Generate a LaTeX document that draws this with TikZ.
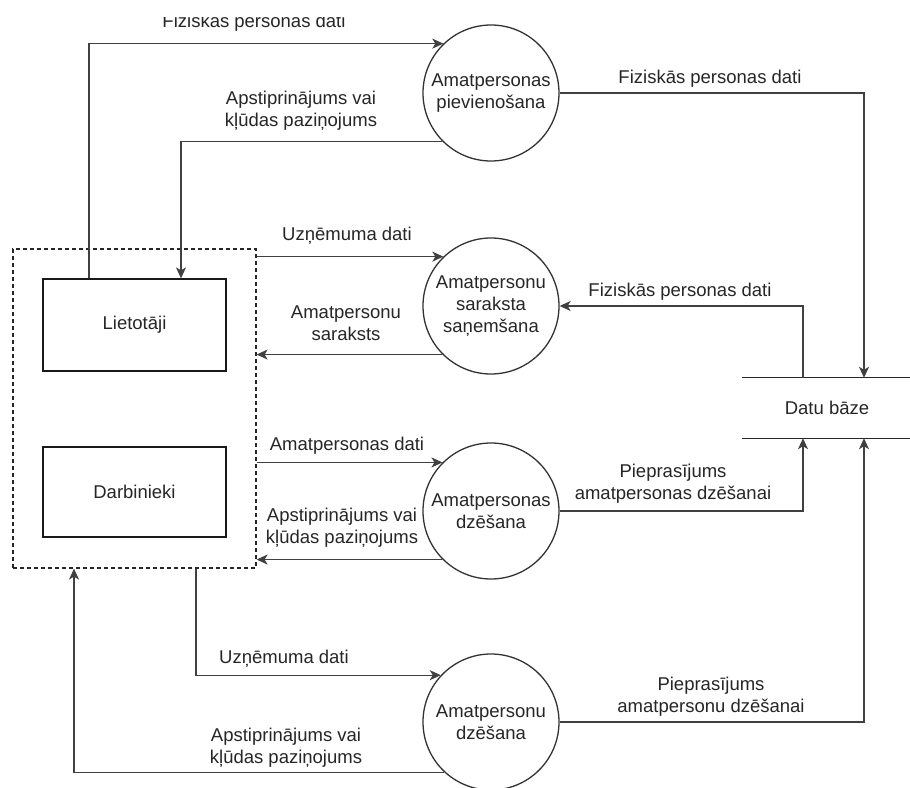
\documentclass[tikz,border=0pt]{standalone}
\usepackage{fontspec}
\setmainfont{Liberation Sans}
\usetikzlibrary{arrows.meta,calc}
\begin{document}
\begin{tikzpicture}[x=1pt,y=-1pt,
  every node/.style={font=\fontsize{18.5}{22}\selectfont, text=black!85},
  proc/.style={circle, draw=black!80, line width=1.3pt, minimum size=136pt, inner sep=0pt, align=center},
  entity/.style={rectangle, draw=black!90, line width=1.3pt, inner sep=0pt},
  flow/.style={draw=black!75, line width=1.3pt, -{Stealth[length=11pt,width=10pt,inset=3pt]}},
  lbl/.style={align=center, inner sep=0pt}]
\useasboundingbox (0,0) rectangle (910,787);
\clip (0,0) rectangle (910,787);
\fill[white] (0,0) rectangle (910,787);

% external entities
\node[draw=black!85, dash pattern=on 4pt off 3pt, line width=1.2pt, minimum width=243pt, minimum height=319pt, inner sep=0pt] (ext) at (134.5,408.5) {};
\node[entity, minimum width=183pt, minimum height=92pt] (usr) at (134.5,325) {Lietotāji};
\node[entity, minimum width=183pt, minimum height=90pt] (emp) at (134.5,492) {Darbinieki};

% processes
\node[proc] (c1) at (491,93) {Amatpersonas\\pievienošana};
\node[proc] (c2) at (491,306) {Amatpersonu\\saraksta\\saņemšana};
\node[proc] (c3) at (491,511) {Amatpersonas\\dzēšana};
\node[proc] (c4) at (491,722) {Amatpersonu\\dzēšana};

% data store
\node[minimum width=170pt, minimum height=60pt, inner sep=0pt] (db) at (827,408) {Datu bāze};
\draw[black!85, line width=1.3pt] (db.north west) -- (db.north east);
\draw[black!85, line width=1.3pt] (db.south west) -- (db.south east);
\coordinate (dbTa) at ($(db.north)+(-24,0)$);
\coordinate (dbTb) at ($(db.north)+(37,0)$);
\coordinate (dbBa) at ($(db.south)+(-24,0)$);
\coordinate (dbBb) at ($(db.south)+(37,0)$);

% flows between entities and processes
\draw[flow] ($(usr.north)+(-45.5,0)$) |- (c1.134);
\draw[flow] (c1.225) -| ($(usr.north)+(46.5,0)$);
\draw[flow] (c2.134 -| ext.east) -- (c2.134);
\draw[flow] (c2.225) -- (c2.225 -| ext.east);
\draw[flow] (c3.135 -| ext.east) -- (c3.135);
\draw[flow] (c3.225) -- (c3.225 -| ext.east);
\draw[flow] ($(ext.south)+(61.5,0)$) |- (c4.137.4);
\draw[flow] (c4.227.3) -| ($(ext.south)+(-60.5,0)$);

% flows between processes and the data store
\draw[flow] (c1.east) -| (dbTb);
\draw[flow] (dbTa) |- (c2.east);
\draw[flow] (c3.east) -| (dbBa);
\draw[flow] (c4.east) -| (dbBb);

% flow labels (the topmost one is cut off along its upper edge)
\begin{scope}
  \clip (0,17) rectangle (910,787);
  \node[lbl] (l1) at (254,23) {Fiziskās personas dati};
\end{scope}
\node[lbl] (l2) at (301,111) {Apstiprinājums vai\\kļūdas paziņojums};
\node[lbl] (l3) at (347,236) {Uzņēmuma dati};
\node[lbl] (l4) at (346,323) {Amatpersonu\\saraksts};
\node[lbl] (l5) at (347,446) {Amatpersonas dati};
\node[lbl] (l6) at (342,528) {Apstiprinājums vai\\kļūdas paziņojums};
\node[lbl] (l7) at (284,659) {Uzņēmuma dati};
\node[lbl] (l8) at (286,748) {Apstiprinājums vai\\kļūdas paziņojums};
\node[lbl] (l9) at (710,79) {Fiziskās personas dati};
\node[lbl] (l10) at (680,292) {Fiziskās personas dati};
\node[lbl] (l11) at (673,484) {Pieprasījums\\amatpersonas dzēšanai};
\node[lbl] (l12) at (711,697) {Pieprasījums\\amatpersonu dzēšanai};
\end{tikzpicture}
\end{document}
